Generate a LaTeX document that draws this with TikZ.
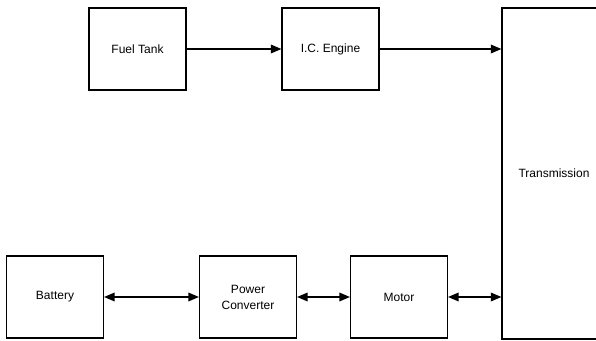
\documentclass[tikz,border=0pt]{standalone}
\usepackage{fontspec}
\setmainfont{Liberation Sans}
\usetikzlibrary{arrows.meta,positioning}

\begin{document}
\begin{tikzpicture}[x=0.75pt, y=-0.75pt,
        block/.style={draw, line width=0.8pt, minimum width=72.75pt, minimum height=61.5pt,
                      align=center, font=\fontsize{9}{11}\selectfont, inner sep=0pt},
        arr/.style={-{Triangle[length=8pt,width=6.5pt]}, line width=1.1pt},
        biarr/.style={{Triangle[length=8pt,width=6.5pt]}-{Triangle[length=8pt,width=6.5pt]}, line width=1.1pt},
    ]
        \useasboundingbox (0,0) rectangle (596,341);

        % Top row: fuel path
        \node[block] (tank)   at (137.5, 49) {Fuel Tank};
        \node[block] (engine) at (330.5, 49) {I.C. Engine};

        % Right: transmission (runs off the edge)
        \node[block, minimum width=78pt, minimum height=248.25pt] (trans) at (554, 173.5) {Transmission};

        % Bottom row: electric path
        \node[block] (batt)  at (55,  297) {Battery};
        \node[block] (conv)  at (248, 297) {Power\\[1pt]Converter};
        \node[block] (motor) at (399, 297) {Motor};

        % Arrows - top row
        \draw[arr] (tank) -- (engine);
        \draw[arr] (engine) -- (engine -| trans.west);

        % Arrows - bottom row
        \draw[biarr] (batt) -- (conv);
        \draw[biarr] (conv) -- (motor);
        \draw[biarr] (motor) -- (motor -| trans.west);
    \end{tikzpicture}
\end{document}
